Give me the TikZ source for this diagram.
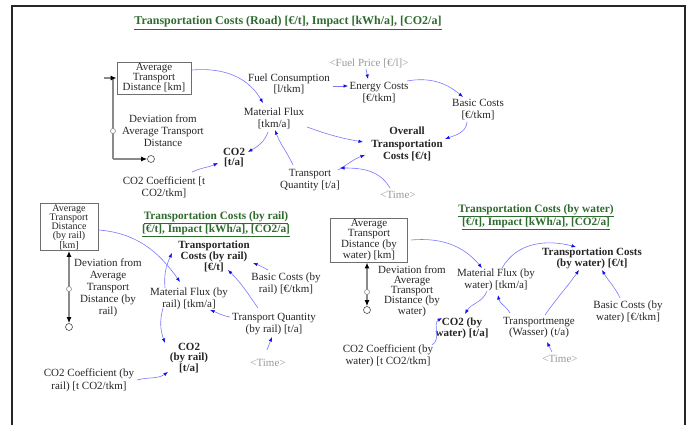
\documentclass[tikz,border=0pt]{standalone}
\usepackage{fontspec}
\setmainfont{Liberation Serif}
\usetikzlibrary{arrows.meta,calc}
\definecolor{txt}{HTML}{262626}
\definecolor{shadow}{HTML}{9A9A9A}
\definecolor{arrline}{HTML}{7878FF}
\definecolor{arrhead}{HTML}{1010F0}
\definecolor{ttl}{HTML}{2E6B2E}
\definecolor{boxc}{HTML}{6E6E6E}
\definecolor{flowc}{HTML}{8A8A8A}
\begin{document}
\begin{tikzpicture}[x=1pt,y=1pt,
  lbl/.style={align=center,text=txt,inner sep=0pt,font=\fontsize{11}{12}\selectfont},
  bld/.style={lbl,font=\bfseries\fontsize{11}{12}\selectfont},
  shd/.style={lbl,text=shadow},
  stock/.style={lbl,draw=boxc,line width=0.8pt,inner sep=1pt},
  ttlst/.style={align=center,text=ttl,inner sep=0pt,font=\bfseries\fontsize{11.3}{12}\selectfont},
  arr/.style={draw=arrline,line width=0.6pt,-{Latex[length=4.5pt,width=3.5pt,color=arrhead]}},
  flowl/.style={draw=flowc,line width=1.2pt},
  ftip/.style={-{Latex[length=6pt,width=5pt,color=black]}},
  valve/.style={circle,draw=flowc,fill=white,inner sep=0pt,minimum size=5pt,line width=0.6pt},
  cloud/.style={circle,draw=black!70,fill=white,inner sep=0pt,minimum size=7pt,line width=0.6pt}
]
\useasboundingbox (0,0) rectangle (691,-425);
\fill[white] (0,0) rectangle (691,-425);
\draw[line width=1.6pt,draw=black!85] (12,-425) -- (12,-6) -- (685,-6) -- (685,-425);

% ---------- Road ----------
\node[ttlst,font=\bfseries\fontsize{12}{12}\selectfont] (t1) at (288,-23) {\underline{Transportation Costs (Road) [€/t], Impact [kWh/a], [CO2/a]}};
\node[stock,minimum width=74pt,minimum height=32pt,font=\fontsize{11}{10}\selectfont] (atd) at (154,-78) {Average\\Transport\\Distance [km]};
\node[shd] (fp) at (369,-63) {<Fuel Price [€/l]>};
\node[lbl,font=\fontsize{11}{11}\selectfont] (fc) at (289,-84) {Fuel Consumption\\{}[l/tkm]};
\node[lbl] (ec) at (379,-93) {Energy Costs\\{}[€/tkm]};
\node[lbl] (bc) at (478,-110) {Basic Costs\\{}[€/tkm]};
\node[lbl] (mf) at (274,-118) {Material Flux\\{}[tkm/a]};
\node[bld,font=\bfseries\fontsize{11}{12.5}\selectfont] (otc) at (407,-144) {Overall\\Transportation\\Costs [€/t]};
\node[bld,font=\bfseries\fontsize{11}{10}\selectfont] (co2) at (234,-158) {CO2\\{}[t/a]};
\node[lbl] (co2c) at (164,-187) {CO2 Coefficient [t\\CO2/tkm]};
\node[lbl] (tq) at (310,-180) {Transport\\Quantity [t/a]};
\node[shd] (tm1) at (398,-195) {<Time>};
\node[lbl] (dev1) at (163,-131) {Deviation from\\Average Transport\\Distance};

\coordinate (f1a) at (113,-78);
\coordinate (f1b) at (113,-159);
\coordinate (f1c) at (104,-78);
\coordinate (v1p) at (113,-131);
\node[cloud] (cl1) at (151,-159) {};
\draw[flowl] (f1a) -- (f1b);
\draw[flowl,ftip] (f1b) -- (cl1.west);
\draw[flowl,ftip] (f1c) -- (atd.west);
\node[valve] (v1) at (v1p) {};

\draw[arr] ($(atd)+(38,8)$) to[out=5,in=120] ($(mf)+(-11,15)$);
\draw[arr] ($(fc)+(44,-2)$) -- ($(ec)+(-31,7)$);
\draw[arr] ($(fp)+(-3,-6)$) -- ($(ec)+(-11,14)$);
\draw[arr] ($(ec)+(28,12)$) to[out=10,in=140] ($(bc)+(-15,13)$);
\draw[arr] ($(bc)+(-11,-12)$) to[out=-95,in=20] ($(otc)+(38,5)$);
\draw[arr] ($(mf)+(33,-9)$) to[out=-20,in=170] ($(otc)+(-44,2)$);
\draw[arr] ($(tq)+(28,10)$) to[out=30,in=-160] ($(otc)+(-42,-11)$);
\draw[arr] ($(tm1)+(-8,7)$) to[out=120,in=0] ($(tq)+(30,12)$);
\draw[arr] ($(tq)+(-17,15)$) to[out=115,in=-70] ($(mf)+(1,-12)$);
\draw[arr] ($(mf)+(-6,-14)$) to[out=-110,in=30] ($(co2)+(14,6)$);
\draw[arr] ($(co2c)+(28,15)$) to[out=25,in=-155] ($(co2)+(-16,-5)$);

% ---------- Rail ----------
\node[ttlst] (t2) at (216,-224) {\underline{Transportation Costs (by rail)}\\\underline{[€/t], Impact [kWh/a], [CO2/a]}};
\node[stock,minimum width=58pt,minimum height=47pt,font=\fontsize{10}{9.2}\selectfont] (atdr) at (69,-227) {Average\\Transport\\Distance\\(by rail)\\{}[km]};
\node[lbl] (devr) at (108,-288) {Deviation from\\Average\\Transport\\Distance (by\\rail)};
\node[bld,font=\bfseries\fontsize{11}{9.5}\selectfont] (tcr) at (214,-256) {Transportation\\Costs (by rail)\\{}[€/t]};
\node[lbl] (bcr) at (286,-284) {Basic Costs (by\\rail) [€/tkm]};
\node[lbl,font=\fontsize{11}{11.5}\selectfont] (mfr) at (189,-299) {Material Flux (by\\rail) [tkm/a]};
\node[lbl] (tqr) at (274,-324) {Transport Quantity\\(by rail) [t/a]};
\node[shd] (tmr) at (268,-363) {<Time>};
\node[bld,font=\bfseries\fontsize{11}{9.8}\selectfont] (co2r) at (189,-358) {CO2\\(by rail)\\{}[t/a]};
\node[lbl,font=\fontsize{11}{13}\selectfont] (co2cr) at (89,-380) {CO2 Coefficient (by\\rail) [t CO2/tkm]};

\coordinate (v2p) at (69,-289);
\node[cloud] (cl2) at (69,-327) {};
\draw[flowl,{Latex[length=6pt,width=5pt,color=black]}-{Latex[length=6pt,width=5pt,color=black]}] (atdr.south) -- (cl2.north);
\node[valve] (v2) at (v2p) {};

\draw[arr] ($(atdr)+(30,-3)$) to[out=-5,in=125] ($(mfr)+(-9,17)$);
\draw[arr] ($(mfr)+(-24,11)$) to[out=95,in=-115] ($(tcr)+(-42,3)$);
\draw[arr] ($(bcr)+(-18,14)$) to[out=150,in=-20] ($(tcr)+(39,-7)$);
\draw[arr] ($(tqr)+(-16,16)$) to[out=125,in=-45] ($(tcr)+(14,-14)$);
\draw[arr] ($(tqr)+(-44,7)$) to[out=170,in=-20] ($(mfr)+(21,-11)$);
\draw[arr] ($(tmr)+(-1,13)$) -- ($(tqr)+(-2,-13)$);
\draw[arr] ($(mfr)+(-26,-9)$) to[out=-105,in=110] ($(co2r)+(-24,15)$);
\draw[arr] ($(co2cr)+(48,0)$) to[out=15,in=-145] ($(co2r)+(-21,-14)$);

% ---------- Water ----------
\node[ttlst] (t3) at (536,-217) {\underline{Transportation Costs (by water)}\\\underline{[€/t], Impact [kWh/a], [CO2/a]}};
\node[stock,minimum width=77pt,minimum height=35pt,font=\fontsize{11}{9}\selectfont] (atdw) at (369,-240) {Average\\Transport\\Distance (by\\water) [km]};
\node[lbl,font=\fontsize{11}{10}\selectfont] (devw) at (412,-291) {Deviation from\\Average\\Transport\\Distance (by\\water)};
\node[bld,font=\bfseries\fontsize{11}{11}\selectfont] (tcw) at (592,-258) {Transportation Costs\\(by water) [€/t]};
\node[lbl] (mfw) at (496,-280) {Material Flux (by\\water) [tkm/a]};
\node[bld,font=\bfseries\fontsize{11}{10}\selectfont] (co2w) at (462,-328) {CO2 (by\\water) [t/a]};
\node[lbl] (co2cw) at (388,-356) {CO2 Coefficient (by\\water) [t CO2/tkm]};
\node[lbl,font=\fontsize{11}{11}\selectfont] (tmw) at (539,-328) {Transportmenge\\(Wasser) (t/a)};
\node[shd] (timw) at (560,-359) {<Time>};
\node[lbl] (bcw) at (628,-312) {Basic Costs (by\\water) [€/tkm]};

\coordinate (v3p) at (367,-292);
\node[cloud] (cl3) at (367,-310) {};
\draw[flowl,{Latex[length=6pt,width=5pt,color=black]}-{Latex[length=6pt,width=5pt,color=black]}] (atdw.south -| cl3) -- (cl3.north);
\node[valve] (v3) at (v3p) {};

\draw[arr] ($(atdw)+(42,0)$) to[out=5,in=130] ($(mfw)+(-14,12)$);
\draw[arr] ($(mfw)+(6,12)$) to[out=60,in=165] ($(tcw)+(-16,11)$);
\draw[arr] ($(tmw)+(-29,15)$) to[out=120,in=-80] ($(mfw)+(2,-15)$);
\draw[arr] ($(tmw)+(6,13)$) to[out=55,in=-125] ($(tcw)+(-13,-12)$);
\draw[arr] ($(bcw)+(-8,14)$) to[out=115,in=-60] ($(tcw)+(10,-12)$);
\draw[arr] ($(timw)+(-8,7)$) -- ($(tmw)+(8,-14)$);
\draw[arr] ($(mfw)+(-9,-11)$) to[out=-110,in=60] ($(co2w)+(3,14)$);
\draw[arr] ($(co2cw)+(44,11)$) to[out=30,in=-150] ($(co2w)+(-20,10)$);
\end{tikzpicture}
\end{document}
